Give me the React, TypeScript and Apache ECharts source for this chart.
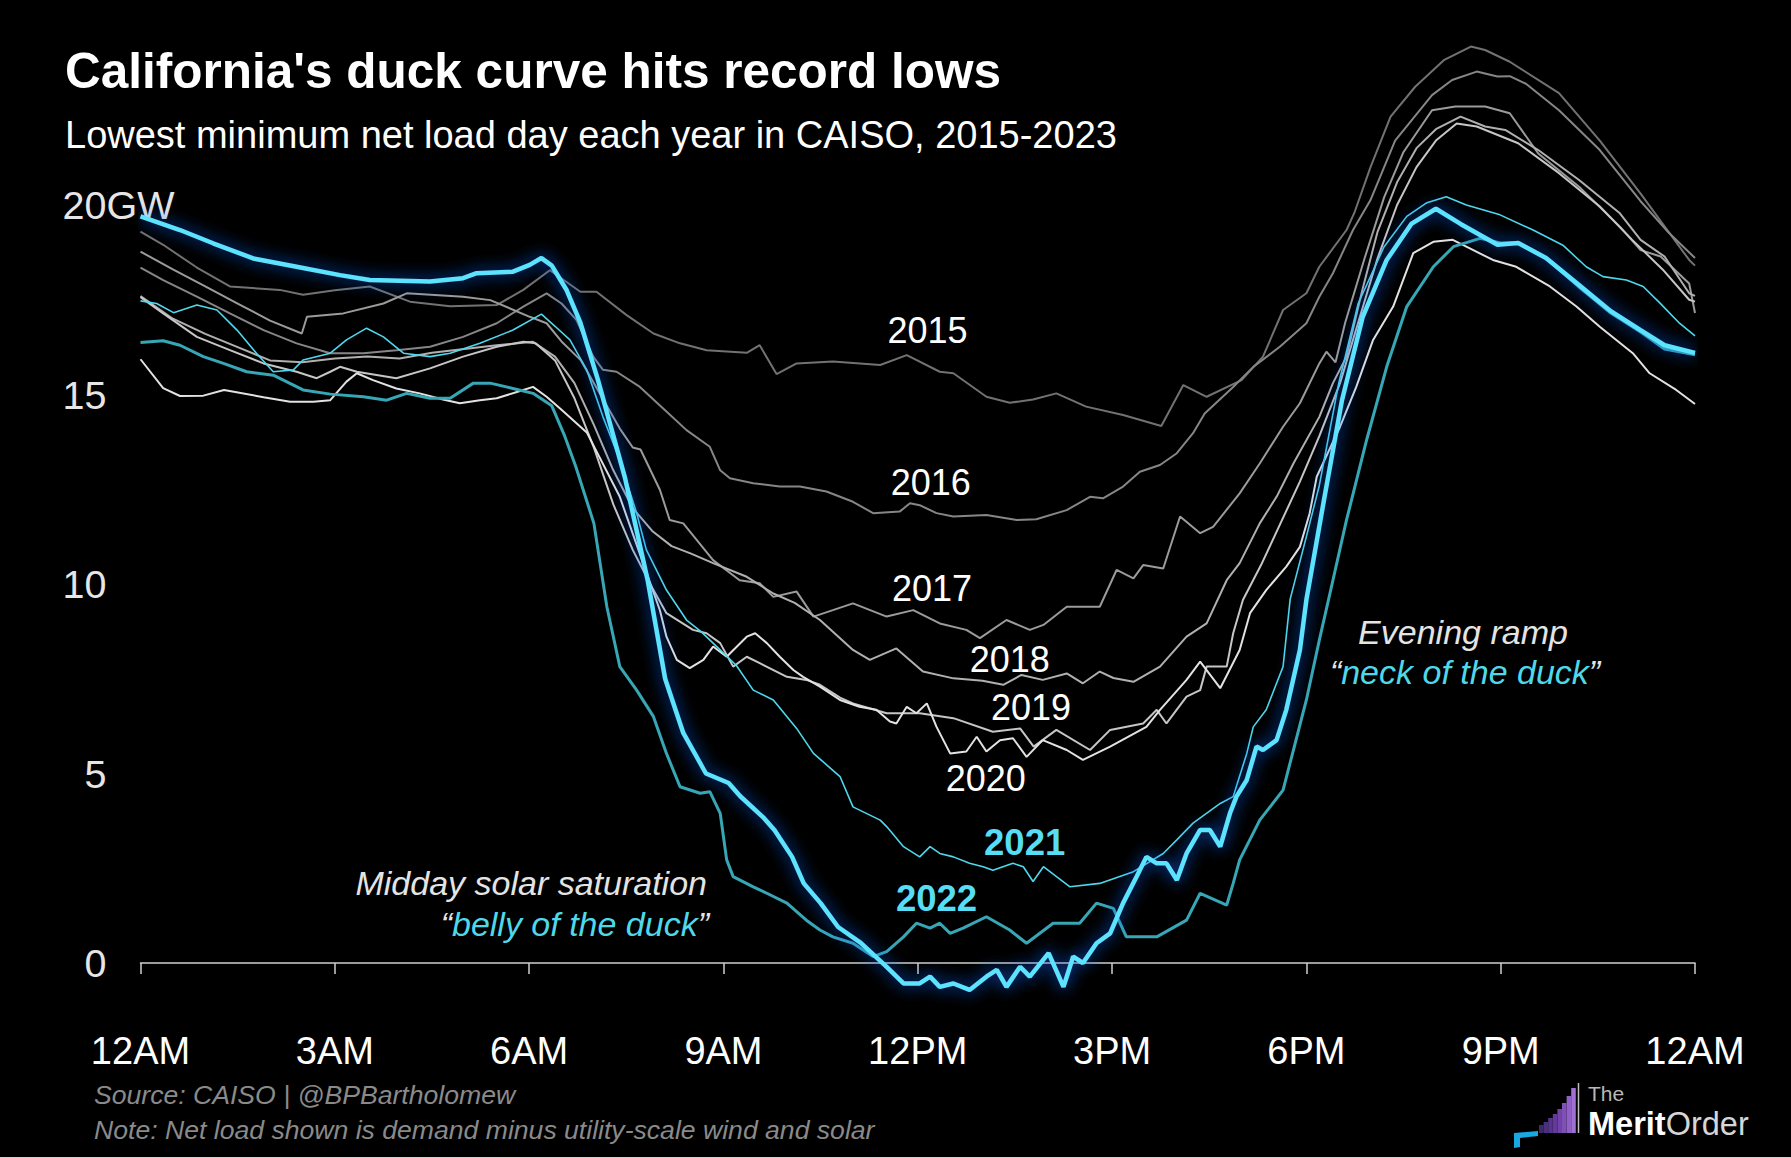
import React, { useEffect, useRef } from 'react';
import * as echarts from 'echarts';

const FONT = '"Liberation Sans", Arial, Helvetica, sans-serif';

const TICK_LABELS = ['12AM', '3AM', '6AM', '9AM', '12PM', '3PM', '6PM', '9PM', '12AM'];
const YEARS = ['2015', '2016', '2017', '2018', '2019', '2020', '2021', '2022', '2023'];

// [hour of day, net load GW]
const Y2015: [number, number][] = [
  [0, 19.3], [0.35, 18.95], [0.87, 18.35], [1.38, 17.85], [2.15, 17.76], [2.51, 17.63], [3.0, 17.75], [3.54, 17.85],
  [4.16, 17.45], [4.78, 17.33], [5.5, 17.36], [5.91, 17.76], [6.32, 18.28], [6.55, 18.0], [6.79, 17.71], [7.04, 17.71],
  [7.5, 17.1], [7.92, 16.61], [8.33, 16.35], [8.74, 16.17], [9.36, 16.1], [9.56, 16.3], [9.82, 15.54], [10.13, 15.82],
  [10.69, 15.87], [11.42, 15.78], [11.83, 16.04], [12.34, 15.6], [12.55, 15.56], [13.06, 14.94], [13.42, 14.78],
  [13.78, 14.87], [14.14, 15.03], [14.6, 14.68], [15.17, 14.46], [15.76, 14.17], [16.1, 15.25], [16.46, 14.94],
  [17.0, 15.38], [17.33, 16.0], [17.64, 17.23], [18.0, 17.67], [18.2, 18.37], [18.62, 19.34], [18.74, 19.79],
  [18.99, 21.0], [19.3, 22.33], [19.68, 23.12], [20.13, 23.83], [20.54, 24.18], [20.76, 24.09], [21.14, 23.78],
  [21.9, 22.95], [22.53, 21.7], [23.16, 20.3], [23.91, 18.55], [24, 18.4],
];
const Y2016: [number, number][] = [
  [0, 18.35], [0.35, 18.02], [0.87, 17.58], [1.38, 17.14], [1.9, 16.7], [2.41, 16.35], [2.93, 16.09], [3.44, 16.09],
  [3.95, 16.17], [4.47, 16.26], [4.98, 16.52], [5.5, 16.88], [5.91, 17.32], [6.27, 17.67], [6.5, 17.4], [6.73, 16.97],
  [6.99, 16.0], [7.14, 15.65], [7.35, 15.6], [7.71, 15.2], [8.12, 14.55], [8.43, 14.06], [8.79, 13.62], [8.95, 13.0],
  [9.1, 12.79], [9.46, 12.66], [9.87, 12.57], [10.18, 12.57], [10.59, 12.44], [11.0, 12.17], [11.31, 11.87],
  [11.72, 11.91], [11.88, 12.13], [12.03, 12.08], [12.29, 11.87], [12.55, 11.78], [13.06, 11.82], [13.53, 11.69],
  [13.83, 11.71], [14.3, 11.95], [14.66, 12.3], [14.86, 12.26], [15.17, 12.57], [15.43, 12.96], [15.74, 13.14],
  [16.0, 13.45], [16.25, 13.98], [16.43, 14.5], [16.87, 15.2], [17.18, 15.73], [17.59, 16.26], [18.0, 16.88],
  [18.2, 17.58], [18.41, 18.2], [18.72, 19.34], [18.99, 20.13], [19.37, 21.7], [19.94, 22.9], [20.25, 23.3],
  [20.63, 23.52], [20.95, 23.39], [21.14, 23.4], [21.39, 23.2], [21.9, 22.5], [22.53, 21.45], [23.16, 20.1],
  [23.6, 19.26], [24, 18.6],
];
const Y2017: [number, number][] = [
  [0, 18.77], [0.5, 18.3], [1.0, 17.85], [1.5, 17.4], [2.0, 16.95], [2.49, 16.61], [2.57, 17.05], [3.13, 17.14],
  [3.75, 17.4], [4.11, 17.67], [4.98, 17.58], [5.4, 17.49], [6.01, 17.05], [6.27, 16.88], [6.5, 16.4], [6.8, 15.9],
  [7.1, 15.0], [7.4, 14.1], [7.6, 13.6], [7.72, 13.55], [8.02, 12.48], [8.17, 11.69], [8.38, 11.6], [8.84, 10.63],
  [9.25, 10.1], [9.56, 10.02], [9.77, 9.66], [10.13, 9.8], [10.39, 9.14], [10.69, 9.31], [11.0, 9.49], [11.52, 9.14],
  [11.93, 9.31], [12.34, 8.96], [12.75, 8.79], [12.96, 8.57], [13.37, 9.05], [13.73, 8.79], [13.94, 8.92], [14.3, 9.4],
  [14.81, 9.4], [15.07, 10.37], [15.33, 10.15], [15.48, 10.5], [15.79, 10.41], [16.05, 11.78], [16.36, 11.34],
  [16.56, 11.51], [16.97, 12.39], [17.28, 13.18], [17.64, 14.15], [17.9, 14.77], [18.2, 15.82], [18.31, 16.13],
  [18.45, 15.85], [18.6, 16.9], [18.9, 18.6], [19.2, 20.2], [19.5, 21.4], [19.94, 22.5], [20.3, 22.6], [20.76, 22.6],
  [21.14, 22.42], [21.58, 21.36], [22.21, 20.48], [22.84, 19.43], [23.16, 18.81], [23.47, 18.64], [23.91, 17.93],
  [24, 17.15],
];
const Y2018: [number, number][] = [
  [0, 17.6], [0.5, 17.0], [1.0, 16.6], [1.5, 16.25], [2.0, 15.9], [2.5, 15.85], [3.0, 15.95], [3.5, 16.0], [4.0, 15.95],
  [4.5, 16.1], [5.0, 16.2], [5.5, 16.3], [6.06, 16.39], [6.4, 16.0], [6.7, 15.3], [7.0, 14.2], [7.3, 13.0], [7.6, 12.0],
  [7.9, 11.4], [8.2, 11.0], [8.5, 10.8], [8.84, 10.55], [9.36, 10.19], [9.77, 9.75], [10.1, 9.5], [10.49, 9.05],
  [11.0, 8.26], [11.26, 8.0], [11.67, 8.3], [12.08, 7.69], [12.55, 7.51], [13.0, 7.45], [13.32, 7.34], [13.6, 7.6],
  [13.93, 7.47], [14.3, 7.64], [14.55, 7.38], [14.81, 7.69], [15.02, 7.52], [15.33, 7.42], [15.74, 7.82], [16.15, 8.61],
  [16.46, 8.96], [16.77, 10.1], [16.97, 10.55], [17.28, 11.6], [17.54, 12.3], [17.8, 13.18], [18.2, 14.41],
  [18.41, 15.3], [18.62, 16.0], [18.87, 17.8], [19.1, 19.3], [19.4, 20.6], [19.7, 21.5], [20.0, 22.0], [20.38, 22.33],
  [20.76, 22.07], [21.07, 21.98], [21.58, 21.45], [22.21, 20.66], [22.84, 19.78], [23.16, 19.08], [23.53, 18.64],
  [23.91, 17.67], [24, 17.6],
];
const Y2019: [number, number][] = [
  [0, 17.57], [0.35, 17.14], [0.87, 16.52], [1.38, 16.17], [1.9, 15.82], [2.41, 15.6], [2.72, 15.43], [2.93, 15.6],
  [3.08, 15.73], [3.34, 15.6], [3.95, 15.43], [4.47, 15.69], [4.98, 16.0], [5.5, 16.26], [5.91, 16.39], [6.1, 16.35],
  [6.4, 15.9], [6.7, 14.9], [7.0, 13.6], [7.3, 12.1], [7.6, 10.9], [7.9, 9.9], [8.12, 9.23], [8.53, 8.79], [8.74, 8.7],
  [8.95, 8.44], [9.15, 7.82], [9.36, 8.08], [9.56, 7.91], [9.98, 7.55], [10.28, 7.47], [10.49, 7.34], [10.8, 7.0],
  [11.0, 6.85], [11.52, 6.59], [12.03, 6.59], [12.55, 6.46], [13.16, 6.1], [13.58, 6.19], [13.79, 5.71], [14.14, 6.15],
  [14.66, 5.62], [14.97, 6.15], [15.48, 6.32], [15.69, 6.68], [15.84, 6.32], [16.15, 7.03], [16.36, 7.2],
  [16.46, 7.82], [16.77, 7.82], [16.87, 8.7], [17.02, 9.58], [17.3, 10.5], [17.6, 11.6], [17.9, 12.7], [18.2, 13.9],
  [18.52, 15.3], [18.8, 16.9], [19.1, 18.6], [19.4, 20.0], [19.7, 21.0], [20.0, 21.7], [20.32, 22.15], [20.63, 22.07],
  [21.27, 21.63], [21.9, 20.84], [22.53, 19.96], [23.03, 19.08], [23.5, 18.3], [23.91, 17.5], [24, 17.45],
];
const Y2020: [number, number][] = [
  [0, 15.93], [0.35, 15.17], [0.61, 14.96], [0.97, 14.97], [1.29, 15.12], [1.9, 14.93], [2.31, 14.81], [2.67, 14.81],
  [2.93, 14.85], [3.18, 15.34], [3.34, 15.56], [3.59, 15.38], [3.95, 15.16], [4.31, 15.03], [4.67, 14.87],
  [4.93, 14.77], [5.24, 14.85], [5.5, 14.9], [5.91, 15.12], [6.06, 15.2], [6.27, 14.94], [6.5, 14.6], [6.89, 14.0],
  [7.4, 12.3], [7.76, 10.55], [8.02, 9.3], [8.12, 8.61], [8.28, 8.0], [8.48, 7.78], [8.69, 8.0], [8.84, 8.35],
  [9.05, 8.08], [9.36, 8.61], [9.49, 8.7], [9.67, 8.44], [9.87, 8.08], [10.08, 7.73], [10.23, 7.55], [10.49, 7.29],
  [10.8, 6.94], [11.1, 6.76], [11.36, 6.68], [11.57, 6.37], [11.67, 6.32], [11.83, 6.76], [11.98, 6.59], [12.14, 6.85],
  [12.29, 6.23], [12.5, 5.53], [12.75, 5.58], [12.91, 5.97], [13.06, 5.58], [13.27, 5.88], [13.47, 5.93],
  [13.68, 5.44], [13.93, 5.88], [14.3, 5.62], [14.55, 5.36], [14.97, 5.71], [15.53, 6.23], [15.74, 6.68],
  [16.15, 7.47], [16.36, 7.95], [16.67, 7.25], [16.97, 8.26], [17.13, 9.23], [17.38, 9.84], [17.69, 10.46],
  [17.9, 10.98], [18.05, 11.86], [18.16, 12.83], [18.52, 14.15], [18.77, 15.2], [19.03, 16.44], [19.34, 17.32],
  [19.65, 18.73], [19.96, 19.03], [20.26, 19.08], [20.47, 18.9], [20.88, 18.55], [21.24, 18.37], [21.76, 17.85],
  [22.17, 17.32], [22.53, 16.79], [23.04, 16.09], [23.3, 15.56], [23.71, 15.12], [24, 14.75],
];
const Y2021: [number, number][] = [
  [0, 17.47], [0.25, 17.4], [0.51, 17.16], [0.87, 17.36], [1.18, 17.23], [1.49, 16.7], [1.79, 16.09], [2.05, 15.6],
  [2.36, 15.65], [2.51, 15.91], [2.93, 16.09], [3.18, 16.44], [3.49, 16.75], [3.75, 16.52], [4.06, 16.09], [4.47, 16.0],
  [4.78, 16.09], [5.24, 16.35], [5.75, 16.7], [6.19, 17.12], [6.4, 16.8], [6.63, 16.44], [6.89, 15.65], [7.14, 14.41],
  [7.4, 13.27], [7.66, 11.87], [7.81, 10.9], [8.12, 9.84], [8.43, 9.05], [8.65, 8.75], [8.95, 8.26], [9.2, 7.85],
  [9.46, 7.2], [9.77, 6.94], [10.13, 6.19], [10.39, 5.53], [10.8, 4.92], [11.0, 4.12], [11.42, 3.77], [11.52, 3.6],
  [11.78, 3.07], [12.03, 2.8], [12.19, 3.07], [12.34, 2.89], [12.55, 2.8], [12.8, 2.63], [13.01, 2.54], [13.16, 2.45],
  [13.47, 2.63], [13.63, 2.54], [13.78, 2.15], [13.94, 2.54], [14.35, 2.01], [14.81, 2.1], [15.33, 2.41],
  [15.79, 2.89], [16.0, 3.25], [16.25, 3.69], [16.67, 4.21], [16.87, 4.39], [17.08, 5.53], [17.18, 6.23],
  [17.38, 6.68], [17.64, 7.82], [17.75, 9.6], [18.0, 11.25], [18.2, 12.6], [18.5, 15.3], [18.8, 17.4], [19.2, 18.9],
  [19.55, 19.7], [19.85, 20.05], [20.16, 20.22], [20.47, 20.0], [20.99, 19.74], [21.5, 19.34], [21.96, 18.94],
  [22.32, 18.37], [22.58, 18.11], [22.94, 18.02], [23.2, 17.85], [23.46, 17.41], [23.76, 16.88], [24, 16.55],
];
const Y2022: [number, number][] = [
  [0, 16.37], [0.35, 16.42], [0.61, 16.3], [0.97, 16.0], [1.28, 15.82], [1.64, 15.6], [2.05, 15.51], [2.51, 15.12],
  [2.93, 15.01], [3.44, 14.94], [3.8, 14.85], [4.11, 15.03], [4.47, 14.9], [4.78, 14.9], [5.14, 15.3], [5.4, 15.3],
  [5.75, 15.16], [6.06, 15.03], [6.35, 14.7], [6.55, 13.9], [6.72, 13.1], [7.0, 11.6], [7.2, 9.4], [7.4, 7.82],
  [7.66, 7.2], [7.92, 6.5], [8.12, 5.53], [8.33, 4.65], [8.64, 4.48], [8.79, 4.52], [8.95, 3.95], [9.05, 2.72],
  [9.15, 2.28], [9.46, 2.01], [9.67, 1.84], [9.98, 1.58], [10.28, 1.13], [10.49, 0.87], [10.69, 0.69], [11.0, 0.52],
  [11.31, 0.17], [11.52, 0.3], [11.78, 0.69], [11.98, 1.05], [12.19, 0.92], [12.34, 1.05], [12.5, 0.78], [12.7, 0.92],
  [13.06, 1.22], [13.42, 0.87], [13.68, 0.52], [14.09, 1.05], [14.5, 1.05], [14.76, 1.58], [15.02, 1.44],
  [15.22, 0.69], [15.69, 0.69], [16.15, 1.13], [16.36, 1.84], [16.77, 1.53], [16.87, 2.1], [16.97, 2.72],
  [17.28, 3.77], [17.64, 4.56], [17.8, 5.62], [18.0, 6.94], [18.2, 8.52], [18.41, 10.1], [18.62, 11.69],
  [18.93, 13.8], [19.24, 15.73], [19.55, 17.32], [19.96, 18.37], [20.27, 18.9], [20.68, 19.12], [21.0, 19.0],
  [21.27, 19.0], [21.7, 18.6], [22.2, 17.85], [22.7, 17.15], [23.16, 16.65], [23.53, 16.2], [24, 16.05],
];
const Y2023: [number, number][] = [
  [0, 19.7], [0.61, 19.34], [1.12, 18.99], [1.74, 18.59], [2.41, 18.37], [3.08, 18.15], [3.54, 18.02], [4.47, 17.98],
  [4.98, 18.07], [5.19, 18.2], [5.75, 18.24], [6.01, 18.42], [6.19, 18.6], [6.35, 18.4], [6.58, 17.75], [6.79, 16.9],
  [7.06, 15.4], [7.48, 12.8], [7.83, 10.1], [8.1, 7.5], [8.38, 6.07], [8.73, 5.0], [9.08, 4.75], [9.26, 4.4],
  [9.61, 3.85], [9.79, 3.5], [10.06, 2.8], [10.24, 2.1], [10.5, 1.58], [10.77, 0.95], [11.12, 0.53], [11.52, -0.1],
  [11.78, -0.54], [12.03, -0.54], [12.19, -0.36], [12.34, -0.63], [12.55, -0.54], [12.8, -0.71], [13.06, -0.36],
  [13.22, -0.18], [13.37, -0.63], [13.58, -0.1], [13.73, -0.36], [14.02, 0.26], [14.25, -0.63], [14.4, 0.17],
  [14.55, 0.0], [14.76, 0.52], [14.97, 0.78], [15.17, 1.58], [15.38, 2.28], [15.53, 2.8], [15.69, 2.63],
  [15.84, 2.63], [16.0, 2.19], [16.15, 2.89], [16.36, 3.51], [16.51, 3.51], [16.67, 3.07], [16.82, 3.95],
  [16.92, 4.39], [17.08, 4.83], [17.23, 5.71], [17.33, 5.62], [17.54, 5.88], [17.69, 6.68], [17.9, 8.26],
  [18.0, 9.58], [18.27, 12.2], [18.55, 14.85], [18.87, 17.05], [19.24, 18.55], [19.62, 19.5], [20.0, 19.9],
  [20.38, 19.5], [20.95, 18.95], [21.27, 19.0], [21.7, 18.6], [22.2, 17.9], [22.7, 17.2], [23.16, 16.7],
  [23.53, 16.3], [24, 16.1],
];

const SERIES_DATA = [Y2015, Y2016, Y2017, Y2018, Y2019, Y2020, Y2021, Y2022, Y2023];

// where each year label sits, in [hour, GW]
const LABEL_AT: [number, number][] = [
  [12.15, 16.68], [12.2, 12.69], [12.22, 9.89], [13.42, 8.02], [13.75, 6.73], [13.05, 4.88],
  [13.65, 3.19], [12.29, 1.69], [13.59, -1.35],
];

const STYLE = [
  { color: '#727272', width: 2, z: 2, label: '#ffffff', bold: false },
  { color: '#868686', width: 2, z: 2, label: '#ffffff', bold: false },
  { color: '#9b9b9b', width: 2, z: 2, label: '#ffffff', bold: false },
  { color: '#b0b0b0', width: 2, z: 2, label: '#ffffff', bold: false },
  { color: '#c6c6c6', width: 2, z: 2, label: '#ffffff', bold: false },
  { color: '#e2e2e2', width: 2, z: 3, label: '#ffffff', bold: false },
  { color: '#4dd8ee', width: 1.6, z: 4, label: '#55def4', bold: true },
  { color: '#37a7b6', width: 3, z: 5, label: '#55def4', bold: true },
  { color: '#5ce3ff', width: 4.5, z: 6, label: '#55def4', bold: true },
];

function buildOption() {
  const series = SERIES_DATA.map((data, i) => {
    const st = STYLE[i];
    const isLatest = i === SERIES_DATA.length - 1;
    return {
      name: YEARS[i],
      type: 'line',
      data,
      showSymbol: false,
      symbol: 'none',
      clip: false,
      z: st.z,
      silent: true,
      lineStyle: isLatest
        ? { color: st.color, width: st.width, shadowBlur: 16, shadowColor: 'rgba(20,100,255,1)' }
        : { color: st.color, width: st.width },
      emphasis: { disabled: true },
      markPoint: {
        symbol: 'circle',
        symbolSize: 0,
        silent: true,
        label: {
          show: true,
          position: 'inside',
          formatter: YEARS[i],
          color: st.label,
          fontSize: st.bold ? 36.5 : 36,
          fontWeight: st.bold ? 'bold' : 'normal',
          fontFamily: FONT,
        },
        data: [{ coord: LABEL_AT[i] }],
      },
    };
  });

  const logoBars = [8, 11, 15, 19, 24, 30, 37, 45].map((h, i) => ({
    type: 'rect',
    shape: { x: 1539 + i * 4.6, y: 1133 - h, width: 4.6, height: h },
    style: { fill: ['#3b2a6a', '#4a2f7c', '#56348a', '#633a98', '#7143a8', '#8050b8', '#9060c6', '#a070d2'][i] },
    silent: true,
  }));

  return {
    animation: false,
    backgroundColor: '#000000',
    title: [
      {
        text: "California's duck curve hits record lows",
        left: 65,
        top: 43,
        padding: 0,
        textStyle: { color: '#ffffff', fontSize: 49.5, fontWeight: 'bold', fontFamily: FONT, lineHeight: 54 },
      },
      {
        text: 'Lowest minimum net load day each year in CAISO, 2015-2023',
        left: 65,
        top: 114,
        padding: 0,
        textStyle: { color: '#ffffff', fontSize: 38, fontWeight: 'normal', fontFamily: FONT, lineHeight: 42 },
      },
    ],
    grid: { left: 140.5, right: 96, top: 205, bottom: 195, containLabel: false },
    xAxis: {
      type: 'value',
      min: 0,
      max: 24,
      interval: 3,
      axisLine: { show: true, onZero: false, lineStyle: { color: '#cfcfcf', width: 1.5 } },
      axisTick: { show: true, length: 11, lineStyle: { color: '#cfcfcf', width: 1.5 } },
      splitLine: { show: false },
      axisLabel: {
        color: '#ffffff',
        fontSize: 38,
        fontFamily: FONT,
        margin: 69,
        showMinLabel: true,
        showMaxLabel: true,
        formatter: (v: number) => TICK_LABELS[Math.round(v / 3)],
      },
    },
    yAxis: {
      type: 'value',
      min: 0,
      max: 20,
      interval: 5,
      axisLine: { show: false },
      axisTick: { show: false },
      splitLine: { show: false },
      axisLabel: { color: '#e6e6e6', fontSize: 39.5, fontFamily: FONT, margin: 34 },
    },
    series,
    graphic: [
      {
        type: 'text',
        x: 106.5,
        y: 205,
        silent: true,
        style: { text: 'GW', fill: '#e6e6e6', fontSize: 39.5, fontFamily: FONT, textAlign: 'left', textVerticalAlign: 'middle' },
      },
      {
        type: 'text',
        x: 707,
        y: 883,
        silent: true,
        style: {
          text: 'Midday solar saturation', fill: '#e4e4e4', fontSize: 34, fontStyle: 'italic', fontFamily: FONT,
          textAlign: 'right', textVerticalAlign: 'middle',
        },
      },
      {
        type: 'text',
        x: 709,
        y: 924,
        silent: true,
        style: {
          text: '{q|\u201c}{c|belly of the duck}{q|\u201d}',
          fontSize: 34, fontStyle: 'italic', fontFamily: FONT, textAlign: 'right', textVerticalAlign: 'middle',
          rich: {
            q: { fill: '#e4e4e4', fontSize: 34, fontStyle: 'italic', fontFamily: FONT },
            c: { fill: '#4fd8ea', fontSize: 34, fontStyle: 'italic', fontFamily: FONT },
          },
        },
      },
      {
        type: 'text',
        x: 1463,
        y: 632,
        silent: true,
        style: {
          text: 'Evening ramp', fill: '#e4e4e4', fontSize: 34, fontStyle: 'italic', fontFamily: FONT,
          textAlign: 'center', textVerticalAlign: 'middle',
        },
      },
      {
        type: 'text',
        x: 1465,
        y: 672,
        silent: true,
        style: {
          text: '{q|\u201c}{c|neck of the duck}{q|\u201d}',
          fontSize: 34, fontStyle: 'italic', fontFamily: FONT, textAlign: 'center', textVerticalAlign: 'middle',
          rich: {
            q: { fill: '#e4e4e4', fontSize: 34, fontStyle: 'italic', fontFamily: FONT },
            c: { fill: '#4fd8ea', fontSize: 34, fontStyle: 'italic', fontFamily: FONT },
          },
        },
      },
      {
        type: 'text',
        x: 94,
        y: 1095,
        silent: true,
        style: {
          text: 'Source: CAISO | @BPBartholomew', fill: '#8a8a8a', fontSize: 26.6, fontStyle: 'italic', fontFamily: FONT,
          textAlign: 'left', textVerticalAlign: 'middle',
        },
      },
      {
        type: 'text',
        x: 94,
        y: 1130,
        silent: true,
        style: {
          text: 'Note: Net load shown is demand minus utility-scale wind and solar', fill: '#8a8a8a', fontSize: 26.6,
          fontStyle: 'italic', fontFamily: FONT, textAlign: 'left', textVerticalAlign: 'middle',
        },
      },
      ...logoBars,
      {
        type: 'polygon',
        silent: true,
        shape: { points: [[1514, 1133], [1538, 1131], [1538, 1136], [1520, 1138], [1520, 1147], [1514, 1148]] },
        style: { fill: '#1aa8e2' },
      },
      {
        type: 'line',
        silent: true,
        shape: { x1: 1578.5, y1: 1083, x2: 1578.5, y2: 1133 },
        style: { stroke: '#bdbdbd', lineWidth: 1.5 },
      },
      {
        type: 'text',
        x: 1588,
        y: 1093,
        silent: true,
        style: { text: 'The', fill: '#b8b8b8', fontSize: 21, fontFamily: FONT, textAlign: 'left', textVerticalAlign: 'middle' },
      },
      {
        type: 'text',
        x: 1588,
        y: 1124,
        silent: true,
        style: {
          text: '{m|Merit}{o|Order}',
          fontSize: 32.5, fontFamily: FONT, textAlign: 'left', textVerticalAlign: 'middle',
          rich: {
            m: { fill: '#ffffff', fontSize: 32.5, fontWeight: 'bold', fontFamily: FONT },
            o: { fill: '#d6d6d6', fontSize: 32.5, fontWeight: 'normal', fontFamily: FONT },
          },
        },
      },
      {
        type: 'line',
        silent: true,
        shape: { x1: 0, y1: 1157.5, x2: 1791, y2: 1157.5 },
        style: { stroke: '#d0d0d0', lineWidth: 1 },
      },
    ],
  };
}

export default function App() {
  const ref = useRef<HTMLDivElement>(null);
  useEffect(() => {
    document.body.style.margin = '0';
    document.body.style.background = '#000';
    const chart = echarts.init(ref.current as HTMLDivElement, null, { renderer: 'svg' });
    chart.setOption(buildOption() as any);
    return () => {
      chart.dispose();
    };
  }, []);
  return <div ref={ref} style={{ width: 1791, height: 1158, background: '#000' }} />;
}
